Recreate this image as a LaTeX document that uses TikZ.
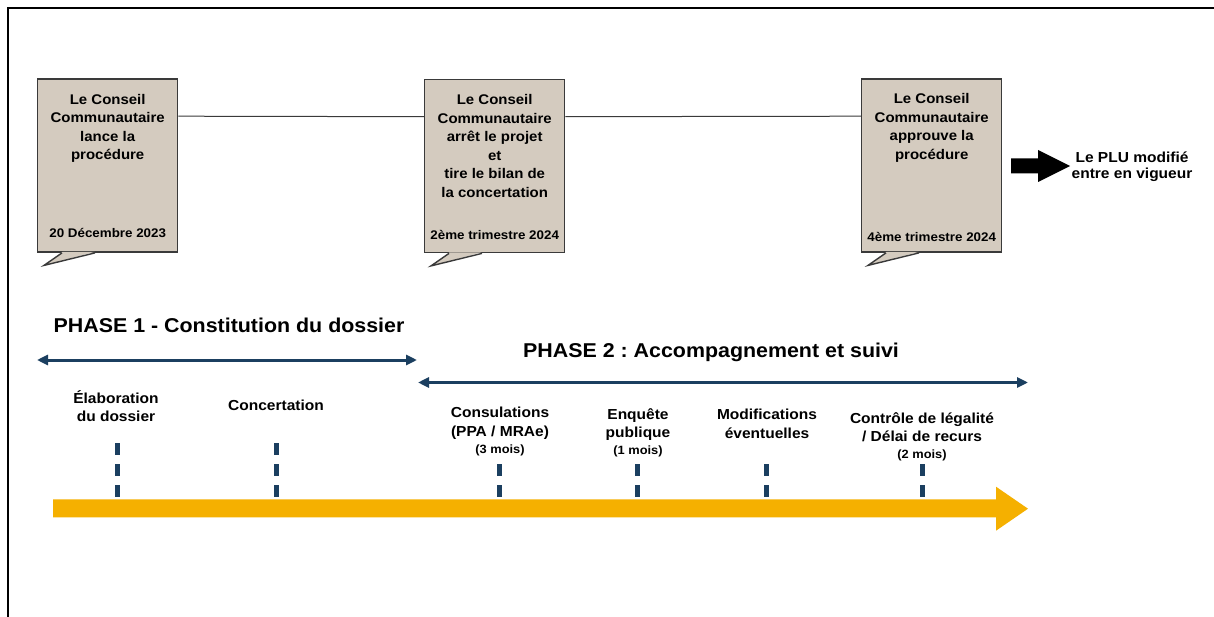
\documentclass[tikz,border=0pt]{standalone}
\usepackage{fontspec}
\setmainfont{Liberation Sans}[FakeStretch=1.07]
\usetikzlibrary{arrows.meta,calc}
\definecolor{boxfill}{HTML}{D4CBBF}
\definecolor{boxline}{HTML}{3A3A3A}
\definecolor{navy}{HTML}{1B3F60}
\definecolor{gold}{HTML}{F5B000}
\newcommand\monthfont{\fontsize{12}{13}\selectfont}
\frenchspacing
\begin{document}
\begin{tikzpicture}[x=1pt,y=-1pt,
  callbox/.style={draw=boxline,line width=1.4pt,fill=boxfill,minimum width=140pt,minimum height=173pt,inner sep=0pt,anchor=north west},
  boxtitle/.style={anchor=north,inner sep=0pt,align=center,font=\fontsize{14}{18.5}\selectfont\bfseries},
  boxdate/.style={anchor=base,inner sep=0pt,font=\fontsize{12.5}{15}\selectfont\bfseries},
  phasetitle/.style={anchor=base,inner sep=0pt,font=\fontsize{20}{24}\selectfont\bfseries},
  itemlabel/.style={anchor=north,inner sep=0pt,align=center,font=\fontsize{14.5}{18.5}\selectfont\bfseries},
  phasearrow/.style={navy,line width=3pt,{Triangle[length=11pt,width=10pt]}-{Triangle[length=11pt,width=10pt]}},
  dashtick/.style={navy,line width=5pt,dash pattern=on 12pt off 9pt},
  link/.style={draw=boxline,line width=1pt}
]
\useasboundingbox (0,0) rectangle (1214,617);
\fill[white] (0,0) rectangle (1214,617);
% frame
\draw[line width=2.5pt,line join=miter] (8,617) -- (8,8) -- (1214,8);

% boxes
\node[callbox] (b1) at (37,78.5) {};
\node[callbox] (b2) at (424,79) {};
\node[callbox] (b3) at (861,78.5) {};
\foreach \b in {b1,b2,b3}{
  \fill[boxfill] ($(\b.south west)+(25.5,-1)$) -- ($(\b.south west)+(7,12.5)$) -- ($(\b.south west)+(57.5,-1)$) -- cycle;
  \draw[boxline,line width=1.4pt,line join=miter] ($(\b.south west)+(25,0)$) -- ($(\b.south west)+(7,12.5)$) -- ($(\b.south west)+(58,0)$);
}
\draw[link] ([yshift=49.5pt]b1.east) -- ([yshift=49.5pt]b2.west);
\draw[link] ([yshift=49.5pt]b2.east) -- ([yshift=49.5pt]b3.west);

\node[boxtitle] (t1) at ($(b1.north)+(0,15.5)$) {Le Conseil\\Communautaire\\lance la\\procédure};
\node[boxtitle] (t2) at ($(b2.north)+(0,15.5)$) {Le Conseil\\Communautaire\\arrêt le projet\\et\\tire le bilan de\\la concertation};
\node[boxtitle] (t3) at ($(b3.north)+(0,15)$) {Le Conseil\\Communautaire\\approuve la\\procédure};
\node[boxdate] (d1) at ($(b1.north)+(0,159)$) {20 Décembre 2023};
\node[boxdate] (d2) at ($(b2.north)+(0,161)$) {2ème trimestre 2024};
\node[boxdate] (d3) at ($(b3.north)+(0,163)$) {4ème trimestre 2024};

% black arrow and final text
\fill[black] (1011,158.5) -- (1038,158.5) -- (1038,150) -- (1070,166) -- (1038,182) -- (1038,173.5) -- (1011,173.5) -- cycle;
\node[anchor=north,inner sep=0pt,align=center,font=\fontsize{14.5}{16.5}\selectfont\bfseries] (plu) at (1132,151.5) {Le PLU modifié\\entre en vigueur};

% phases
\node[phasetitle] (p1) at (229,332.4) {PHASE 1 - Constitution du dossier};
\node[phasetitle] (p2) at (711,357.3) {PHASE 2 : Accompagnement et suivi};
\coordinate (p1l) at (37,360);
\coordinate (p1r) at (417,360);
\coordinate (p2l) at (418,382.5);
\coordinate (p2r) at (1028,382.5);
\draw[phasearrow] (p1l) -- (p1r);
\draw[phasearrow] (p2l) -- (p2r);

% step labels
\node[itemlabel] (i1) at (116,390) {Élaboration\\du dossier};
\node[itemlabel] (i2) at (276,400) {Concertation};
\node[itemlabel] (i3) at (500,407) {Consulations\\(PPA / MRAe)\\[-1.5pt]{\monthfont (3 mois)}};
\node[itemlabel] (i4) at (638,408) {Enquête\\publique\\[-1.5pt]{\monthfont (1 mois)}};
\node[itemlabel] (i5) at (767,409) {Modifications\\éventuelles};
\node[itemlabel] (i6) at (922,412) {Contrôle de légalité\\/ Délai de recurs\\[-1.5pt]{\monthfont (2 mois)}};

% ticks
\draw[dashtick] (117,443) -- (117,500);
\draw[dashtick] (276,443) -- (276,500);
\draw[dashtick] (499.5,464) -- (499.5,500);
\draw[dashtick] (637.5,464) -- (637.5,500);
\draw[dashtick] (766,464) -- (766,500);
\draw[dashtick] (922,464) -- (922,500);

% timeline arrow
\fill[gold] (53,499.3) -- (996,499.3) -- (996,486.7) -- (1028,508.7) -- (996,530.7) -- (996,517.3) -- (53,517.3) -- cycle;
\end{tikzpicture}
\end{document}
